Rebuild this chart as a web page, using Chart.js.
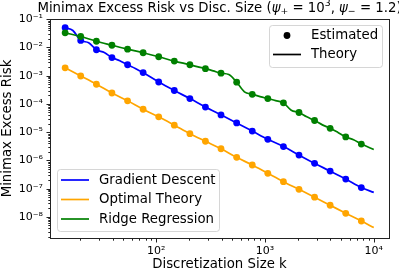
<!DOCTYPE html>
<html lang="en">
<head>
<meta charset="UTF-8">
<title>Minimax Excess Risk vs Disc. Size</title>
<script src="https://cdn.jsdelivr.net/npm/chart.js"></script>
<style>
  html, body { margin: 0; padding: 0; background: #fff; }
</style>
</head>
<body>
<canvas id="riskChart" width="399" height="273"></canvas>
<script>
// discretization sizes k where the estimates were measured
const estK = [14.6, 20.3, 28.3, 39.3, 54.7, 76.0, 105.7, 147, 204.5, 284, 395, 550, 765, 1063, 1479, 2056, 2858, 3975, 5527, 7686];
const gdEst = [5.0e-2, 1.78e-2, 8.3e-3, 4.4e-3, 2.45e-3, 1.29e-3, 6.0e-4, 3.0e-4, 1.55e-4, 7.8e-5, 4.1e-5, 2.14e-5, 1.10e-5, 5.6e-6, 3.1e-6, 1.55e-6, 7.9e-7, 4.2e-7, 2.2e-7, 1.10e-7];
const optEst = [1.9e-3, 9.8e-4, 5.0e-4, 2.45e-4, 1.29e-4, 6.5e-5, 3.5e-5, 1.78e-5, 8.9e-6, 4.8e-6, 2.6e-6, 1.29e-6, 6.9e-7, 3.5e-7, 1.78e-7, 9.5e-8, 5.0e-8, 2.6e-8, 1.35e-8, 7.2e-9];
const ridgeEst = [3.3e-2, 2.45e-2, 1.66e-2, 1.20e-2, 8.7e-3, 6.5e-3, 4.7e-3, 3.3e-3, 2.45e-3, 1.78e-3, 1.23e-3, 5.9e-4, 2.2e-4, 1.55e-4, 1.10e-4, 5.0e-5, 2.6e-5, 1.38e-5, 6.8e-6, 3.8e-6];

// theory curves (extra k values where the curve bends)
const gdThK = [14.6, 17.2, 20.3, 24.0, 28.3, 33.4, 39.3, 46.4, 54.7, 64.5, 76.0, 105.7, 147, 204.5, 284, 395, 550, 765, 1063, 1479, 2056, 2858, 3975, 5527, 7686, 10000];
const gdTheory = [5.0e-2, 4.0e-2, 1.78e-2, 1.48e-2, 8.3e-3, 6.6e-3, 4.4e-3, 3.4e-3, 2.45e-3, 1.82e-3, 1.29e-3, 6.0e-4, 3.0e-4, 1.55e-4, 7.8e-5, 4.1e-5, 2.14e-5, 1.10e-5, 5.6e-6, 3.1e-6, 1.55e-6, 7.9e-7, 4.2e-7, 2.2e-7, 1.10e-7, 7.4e-8];
const optThK = [14.6, 20.3, 28.3, 39.3, 54.7, 76.0, 105.7, 147, 204.5, 284, 395, 550, 765, 1063, 1479, 2056, 2858, 3975, 5527, 7686, 10000];
const optTheory = [1.9e-3, 9.8e-4, 5.0e-4, 2.45e-4, 1.29e-4, 6.5e-5, 3.5e-5, 1.78e-5, 8.9e-6, 4.8e-6, 2.6e-6, 1.29e-6, 6.9e-7, 3.5e-7, 1.78e-7, 9.5e-8, 5.0e-8, 2.6e-8, 1.35e-8, 7.2e-9, 4.2e-9];
const ridgeThK = [14.6, 20.3, 28.3, 39.3, 54.7, 76.0, 105.7, 147, 204.5, 284, 335, 395, 466, 550, 648, 765, 902, 1063, 1254, 1479, 1744, 2056, 2424, 2858, 3371, 3975, 4688, 5527, 6518, 7686, 10000];
const ridgeTheory = [3.3e-2, 2.45e-2, 1.66e-2, 1.20e-2, 8.7e-3, 6.5e-3, 4.7e-3, 3.3e-3, 2.45e-3, 1.78e-3, 1.48e-3, 1.23e-3, 1.10e-3, 5.9e-4, 2.7e-4, 2.2e-4, 1.82e-4, 1.55e-4, 1.32e-4, 1.10e-4, 6.0e-5, 5.0e-5, 3.5e-5, 2.6e-5, 1.82e-5, 1.38e-5, 9.8e-6, 6.8e-6, 5.4e-6, 3.8e-6, 2.45e-6];

const xMajor = [1e2, 1e3, 1e4];
const xTickLabels = ['10²', '10³', '10⁴'];
const yMajor = [1e-8, 1e-7, 1e-6, 1e-5, 1e-4, 1e-3, 1e-2, 1e-1];
const yTickLabels = ['10⁻⁸', '10⁻⁷', '10⁻⁶', '10⁻⁵', '10⁻⁴', '10⁻³', '10⁻²', '10⁻¹'];

const FONT = '"DejaVu Sans", sans-serif';
const BLUE = '#0000ff', ORANGE = '#ffa500', GREEN = '#008000';

const pts = (ks, vs) => ks.map((k, i) => ({ x: k, y: vs[i] }));

// log ticks at 1..9 x 10^e inside [lo, hi]
function logTicks(lo, hi) {
  const out = [];
  for (let e = Math.floor(Math.log10(lo)); e <= Math.ceil(Math.log10(hi)); e++) {
    for (let m = 1; m < 10; m++) {
      const v = m * Math.pow(10, e);
      if (v >= lo && v <= hi) out.push({ value: v });
    }
  }
  return out;
}
function labelFor(majors, labels, v) {
  const i = majors.findIndex(m => Math.abs(m - v) / m < 1e-6);
  return i < 0 ? '' : labels[i];
}

function theoryLine(ks, vs, color, order) {
  return { data: pts(ks, vs), borderColor: color, borderWidth: 1.7, pointRadius: 0,
           cubicInterpolationMode: 'monotone', fill: false, order };
}
function estPoints(vs, color, order) {
  return { data: pts(estK, vs), showLine: false, pointRadius: 3.4, pointBorderWidth: 0,
           pointBackgroundColor: color, borderColor: color, order };
}

// spines, tick marks, title and the two legends
const decor = {
  id: 'decor',
  afterDraw(chart) {
    const ctx = chart.ctx;
    const a = chart.chartArea;
    const L = Math.round(a.left) + 0.5, R = Math.round(a.right) + 0.5;
    const T = Math.round(a.top) + 0.5, B = Math.round(a.bottom) + 0.5;
    ctx.save();
    ctx.strokeStyle = '#222';
    ctx.lineWidth = 1;
    ctx.strokeRect(L, T, R - L, B - T);

    const xs = chart.scales.x, ys = chart.scales.y;
    ctx.beginPath();
    xs.ticks.forEach(t => {
      const px = Math.round(xs.getPixelForValue(t.value)) + 0.5;
      const len = labelFor(xMajor, xTickLabels, t.value) ? 4 : 2.2;
      ctx.moveTo(px, B); ctx.lineTo(px, B + len);
    });
    ys.ticks.forEach(t => {
      const py = Math.round(ys.getPixelForValue(t.value)) + 0.5;
      const len = labelFor(yMajor, yTickLabels, t.value) ? 4 : 2.2;
      ctx.moveTo(L, py); ctx.lineTo(L - len, py);
    });
    ctx.stroke();

    // title with math-style parts
    const N = '13.3px ' + FONT, I = 'italic 13.3px ' + FONT, S = '9.3px ' + FONT;
    const parts = [
      ['Minimax Excess Risk vs Disc. Size (', N, 0],
      ['ψ', I, 0], ['+', S, 2.5], [' = 10', N, 0], ['3', S, -5.5],
      [', ', N, 0], ['ψ', I, 0], ['−', S, 2.5], [' = 1.2)', N, 0]
    ];
    let w = 0;
    parts.forEach(p => { ctx.font = p[1]; w += ctx.measureText(p[0]).width; });
    let x = (a.left + a.right) / 2 - w / 2;
    const base = a.top - 7.5;
    ctx.fillStyle = '#000';
    ctx.textBaseline = 'alphabetic';
    ctx.textAlign = 'left';
    parts.forEach(p => {
      ctx.font = p[1];
      ctx.fillText(p[0], x, base + p[2]);
      x += ctx.measureText(p[0]).width;
    });

    // legends
    const box = (bx, by, bw, bh) => {
      const r = 3;
      ctx.beginPath();
      ctx.moveTo(bx + r, by);
      ctx.arcTo(bx + bw, by, bx + bw, by + bh, r);
      ctx.arcTo(bx + bw, by + bh, bx, by + bh, r);
      ctx.arcTo(bx, by + bh, bx, by, r);
      ctx.arcTo(bx, by, bx + bw, by, r);
      ctx.closePath();
      ctx.fillStyle = 'rgba(255,255,255,0.8)';
      ctx.fill();
      ctx.strokeStyle = 'rgba(204,204,204,0.8)';
      ctx.lineWidth = 1;
      ctx.stroke();
    };
    const entry = (bx, ey, text, kind, color) => {
      if (kind === 'dot') {
        ctx.beginPath();
        ctx.arc(bx + 18, ey, 3.4, 0, Math.PI * 2);
        ctx.fillStyle = color;
        ctx.fill();
      } else {
        ctx.beginPath();
        ctx.moveTo(bx + 4, ey); ctx.lineTo(bx + 32, ey);
        ctx.strokeStyle = color;
        ctx.lineWidth = 1.7;
        ctx.stroke();
      }
      ctx.font = '13.3px ' + FONT;
      ctx.fillStyle = '#000';
      ctx.textBaseline = 'middle';
      ctx.fillText(text, bx + 42, ey + 0.5);
    };

    const ux = Math.round(a.right) - 120, uy = Math.round(a.top) + 6;
    box(ux + 0.5, uy + 0.5, 113, 42);
    entry(ux, uy + 10.5, 'Estimated', 'dot', '#000');
    entry(ux, uy + 29.5, 'Theory', 'line', '#000');

    const lx = Math.round(a.left) + 7, ly = Math.round(a.bottom) - 69;
    box(lx + 0.5, ly + 0.5, 162, 62);
    entry(lx, ly + 11, 'Gradient Descent', 'line', BLUE);
    entry(lx, ly + 30.5, 'Optimal Theory', 'line', ORANGE);
    entry(lx, ly + 50, 'Ridge Regression', 'line', GREEN);
    ctx.restore();
  }
};

new Chart(document.getElementById('riskChart'), {
  type: 'line',
  data: {
    datasets: [
      theoryLine(gdThK, gdTheory, BLUE, 6),
      estPoints(gdEst, BLUE, 5),
      theoryLine(optThK, optTheory, ORANGE, 4),
      estPoints(optEst, ORANGE, 3),
      theoryLine(ridgeThK, ridgeTheory, GREEN, 2),
      estPoints(ridgeEst, GREEN, 1)
    ]
  },
  options: {
    responsive: false,
    animation: false,
    events: [],
    layout: { padding: { top: 19, right: 10, left: 0, bottom: 0 } },
    plugins: { legend: { display: false }, tooltip: { enabled: false }, title: { display: false } },
    scales: {
      x: {
        type: 'logarithmic',
        min: 10.6, max: 13800,
        grid: { display: false, drawTicks: false },
        border: { display: false },
        afterBuildTicks: s => { s.ticks = logTicks(s.min, s.max); },
        afterFit: s => { s.height = 35; },
        ticks: {
          autoSkip: false, maxRotation: 0, padding: 7, color: '#000',
          font: { family: FONT, size: 11 },
          callback: v => labelFor(xMajor, xTickLabels, v)
        },
        title: { display: true, text: 'Discretization Size k', color: '#000',
                 font: { family: FONT, size: 13.3 }, padding: 0 }
      },
      y: {
        type: 'logarithmic',
        min: 1.8e-9, max: 0.102,
        grid: { display: false, drawTicks: false },
        border: { display: false },
        afterBuildTicks: s => { s.ticks = logTicks(s.min, s.max); },
        afterFit: s => { s.width = 50; },
        ticks: {
          autoSkip: false, padding: 7, color: '#000',
          font: { family: FONT, size: 11 },
          callback: v => labelFor(yMajor, yTickLabels, v)
        },
        title: { display: true, text: 'Minimax Excess Risk', color: '#000',
                 font: { family: FONT, size: 13.3 }, padding: 0 }
      }
    }
  },
  plugins: [decor]
});
</script>
</body>
</html>
